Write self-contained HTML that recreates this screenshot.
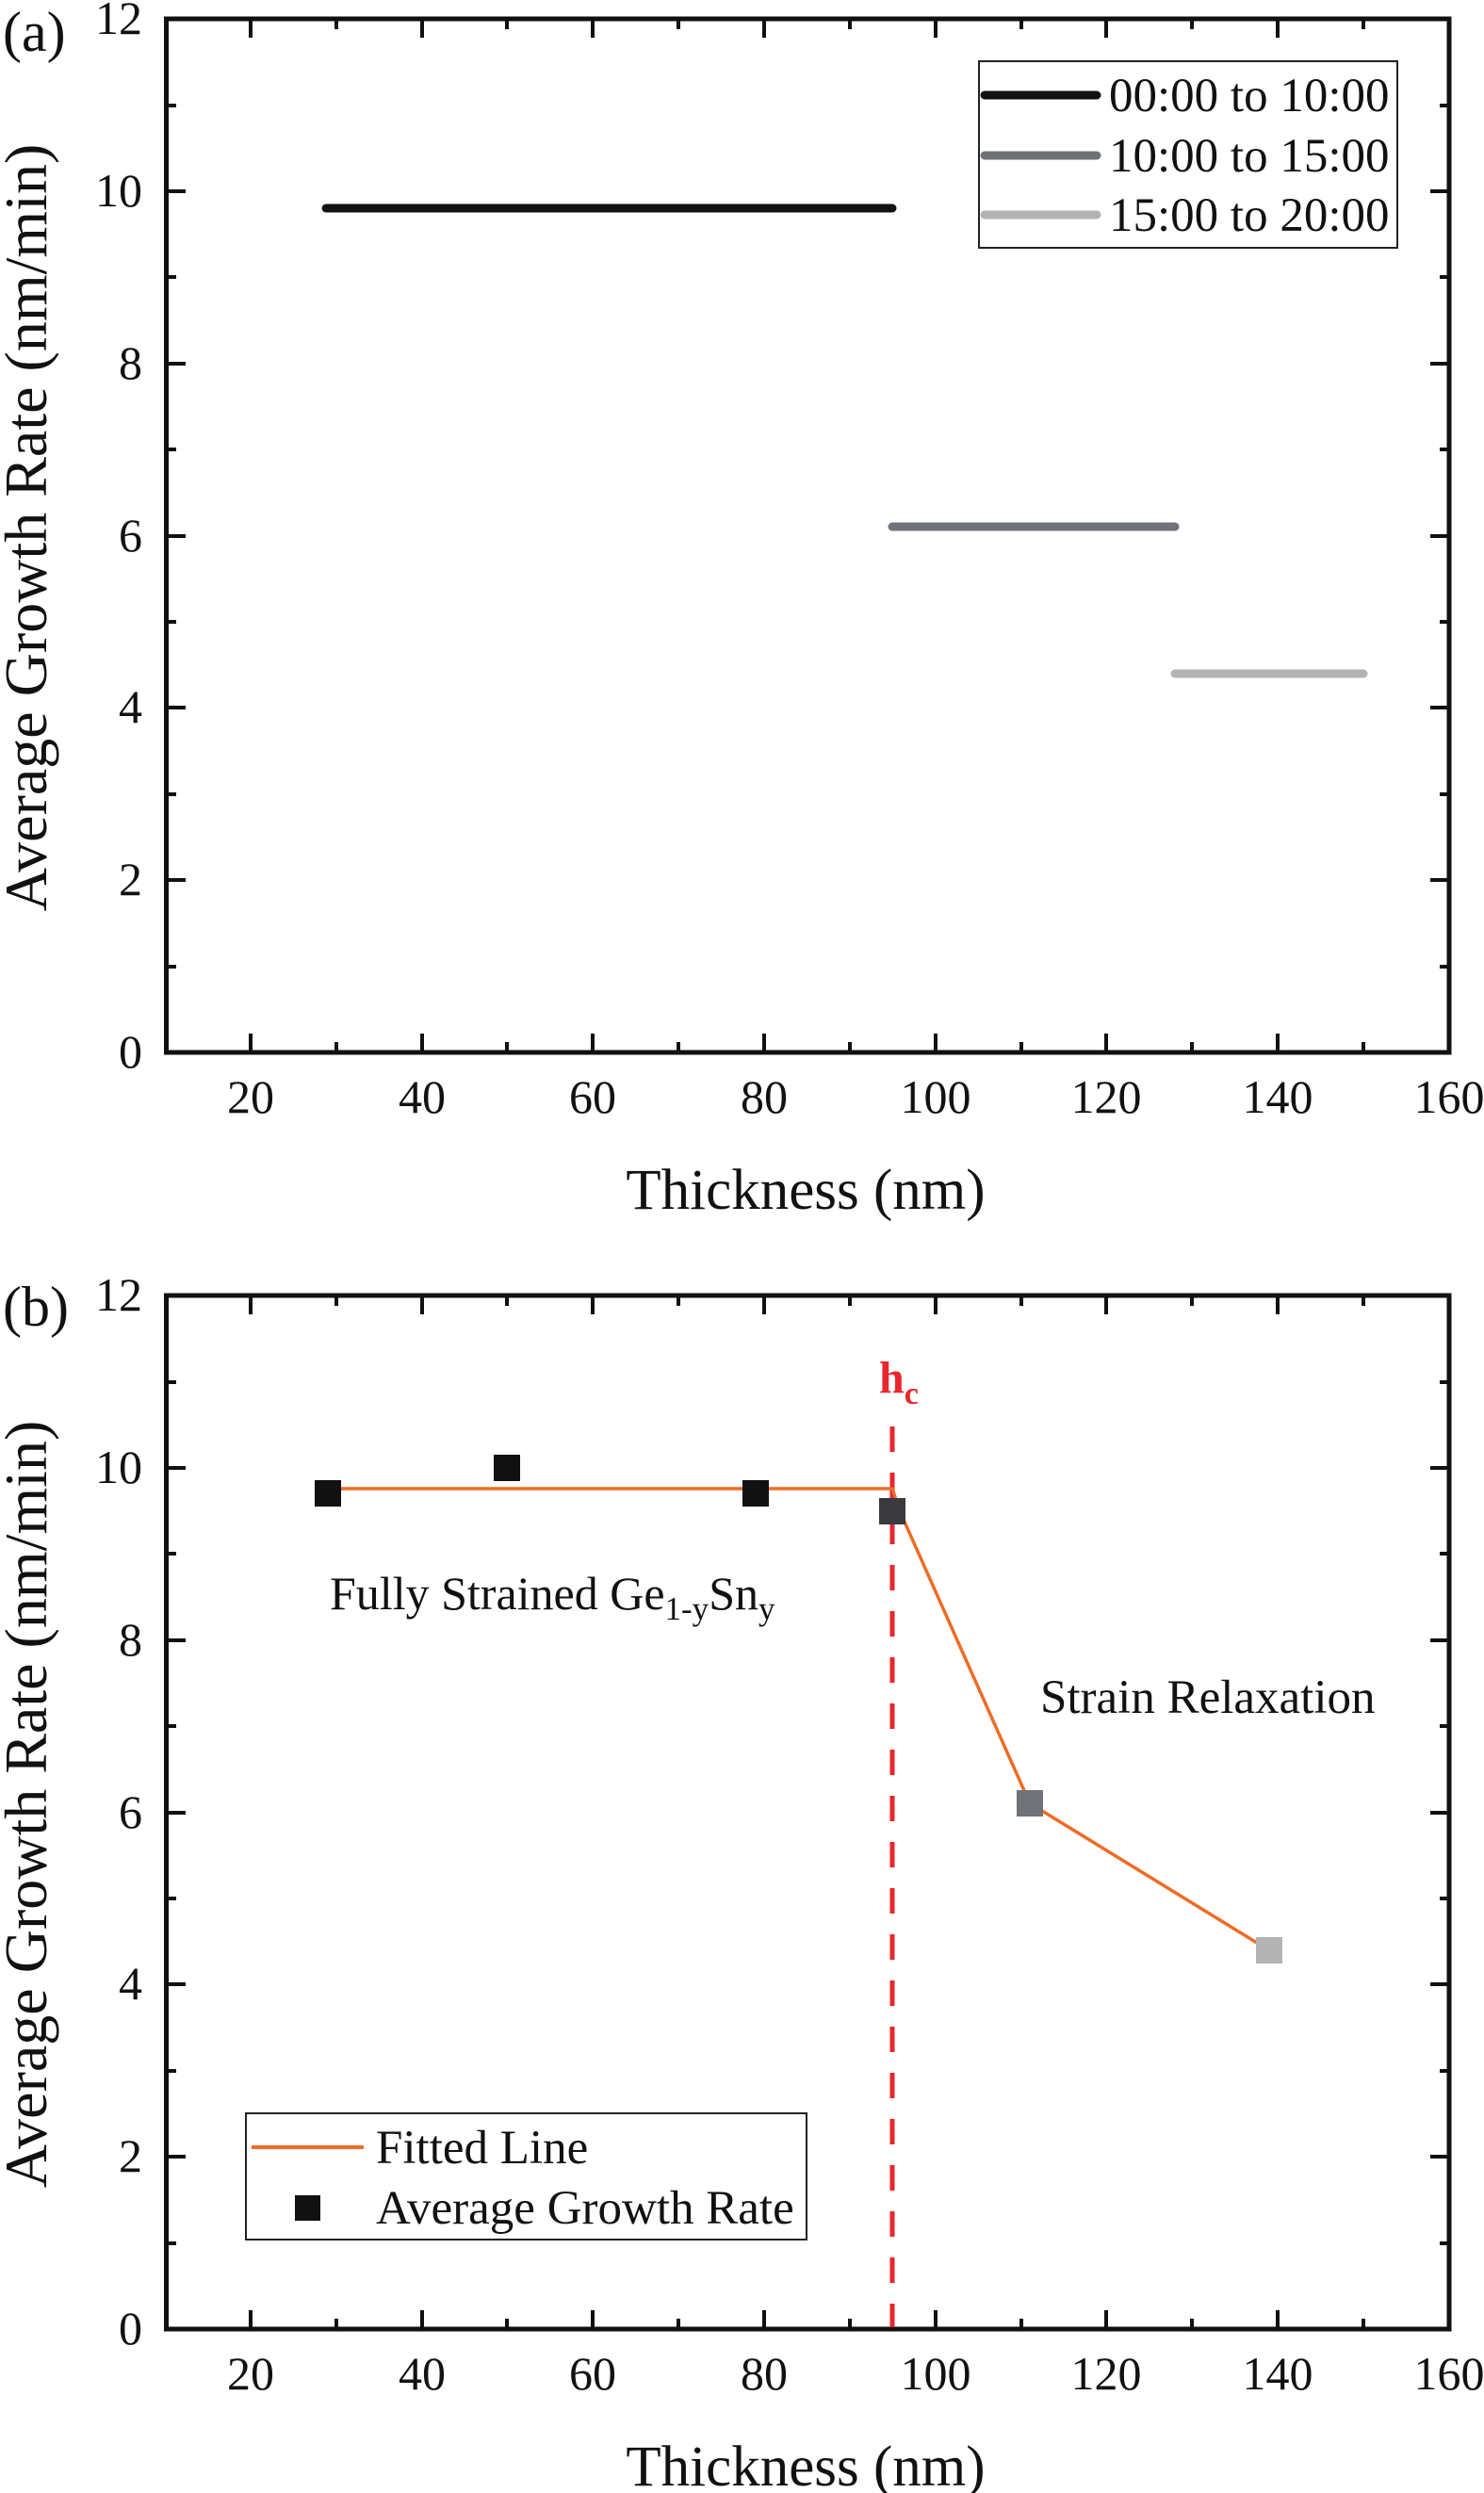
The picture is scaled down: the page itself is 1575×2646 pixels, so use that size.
<!DOCTYPE html>
<html><head><meta charset="utf-8"><style>
html,body{margin:0;padding:0;background:#fff}
svg{display:block}
text{font-family:"Liberation Serif",serif;fill:#111}
</style></head><body>
<svg width="1575" height="2646" viewBox="0 0 1575 2646" xmlns="http://www.w3.org/2000/svg">
<defs>
<g id="frame">
  <rect x="176.5" y="20" width="1361.5" height="1097" fill="none" stroke="#111" stroke-width="5"/>
  <g stroke="#111" stroke-width="4">
    <path d="M266 1117v-20M448 1117v-20M629 1117v-20M811 1117v-20M993 1117v-20M1174 1117v-20M1356 1117v-20"/>
    <path d="M266 20v20M448 20v20M629 20v20M811 20v20M993 20v20M1174 20v20M1356 20v20"/>
    <path d="M357 1117v-11M538 1117v-11M720 1117v-11M902 1117v-11M1084 1117v-11M1265 1117v-11M1447 1117v-11"/>
    <path d="M357 20v11M538 20v11M720 20v11M902 20v11M1084 20v11M1265 20v11M1447 20v11"/>
    <path d="M177 934h20M177 751h20M177 569h20M177 386h20M177 203h20"/>
    <path d="M1538 934h-20M1538 751h-20M1538 569h-20M1538 386h-20M1538 203h-20"/>
    <path d="M177 1026h10M177 843h10M177 660h10M177 477h10M177 294h10M177 112h10"/>
    <path d="M1538 1026h-10M1538 843h-10M1538 660h-10M1538 477h-10M1538 294h-10M1538 112h-10"/>
  </g>
  <g font-size="50" text-anchor="end">
    <text x="151" y="1133">0</text><text x="151" y="950">2</text><text x="151" y="767">4</text>
    <text x="151" y="585">6</text><text x="151" y="402">8</text><text x="151" y="219">10</text><text x="151" y="36">12</text>
  </g>
  <g font-size="50" text-anchor="middle">
    <text x="266" y="1181">20</text><text x="448" y="1181">40</text><text x="629" y="1181">60</text>
    <text x="811" y="1181">80</text><text x="993" y="1181">100</text><text x="1174" y="1181">120</text>
    <text x="1356" y="1181">140</text><text x="1538" y="1181">160</text>
  </g>
  <text x="855" y="1283" font-size="61" text-anchor="middle">Thickness (nm)</text>
  <text transform="translate(49,560) rotate(-90)" font-size="64" text-anchor="middle">Average Growth Rate (nm/min)</text>
</g>
</defs>

<use href="#frame"/>
<text x="3" y="54" font-size="60">(a)</text>
<g stroke-linecap="round" stroke-width="9">
  <line x1="346" y1="221" x2="947" y2="221" stroke="#111"/>
  <line x1="947" y1="559" x2="1247" y2="559" stroke="#6f7277"/>
  <line x1="1247" y1="715" x2="1447" y2="715" stroke="#b3b3b3"/>
</g>
<rect x="1039" y="65" width="444" height="198" fill="#fff" stroke="#222" stroke-width="2"/>
<g stroke-linecap="round" stroke-width="9">
  <line x1="1045" y1="101" x2="1164" y2="101" stroke="#111"/>
  <line x1="1045" y1="165" x2="1164" y2="165" stroke="#6f7277"/>
  <line x1="1045" y1="228" x2="1164" y2="228" stroke="#b3b3b3"/>
</g>
<g font-size="51">
  <text x="1177" y="118">00:00 to 10:00</text>
  <text x="1177" y="182">10:00 to 15:00</text>
  <text x="1177" y="245">15:00 to 20:00</text>
</g>

<g transform="translate(0,1355)">
  <use href="#frame"/>
  <text x="3" y="52" font-size="60">(b)</text>
  <line x1="947" y1="159" x2="947" y2="1115" stroke="#e8262b" stroke-width="5" stroke-dasharray="27,22"/>
  <text x="933" y="123" font-size="48" font-weight="bold" style="fill:#e8262b">h<tspan font-size="34" dy="12">c</tspan></text>
  <polyline points="346,225 947,225 955,249 1093,559 1347,715" fill="none" stroke="#ee6c25" stroke-width="3.5"/>
  <rect x="334" y="216" width="28" height="28" fill="#111"/>
  <rect x="524" y="189" width="28" height="28" fill="#111"/>
  <rect x="788" y="216" width="28" height="28" fill="#111"/>
  <rect x="933" y="235" width="28" height="28" fill="#3a3a3e"/>
  <rect x="1079" y="545" width="28" height="28" fill="#6f7277"/>
  <rect x="1333" y="701" width="28" height="28" fill="#b3b3b3"/>
  <text x="350" y="353" font-size="50">Fully Strained Ge<tspan font-size="35" dy="11">1-y</tspan><tspan dy="-11">Sn</tspan><tspan font-size="35" dy="11">y</tspan></text>
  <text x="1104" y="463" font-size="51">Strain Relaxation</text>
  <rect x="261" y="888" width="595" height="134" fill="#fff" stroke="#222" stroke-width="2"/>
  <line x1="267" y1="924" x2="386" y2="924" stroke="#ee6c25" stroke-width="4"/>
  <rect x="313" y="975" width="27" height="27" fill="#111"/>
  <text x="399" y="941" font-size="51">Fitted Line</text>
  <text x="399" y="1005" font-size="51">Average Growth Rate</text>
</g>
</svg>
</body></html>
